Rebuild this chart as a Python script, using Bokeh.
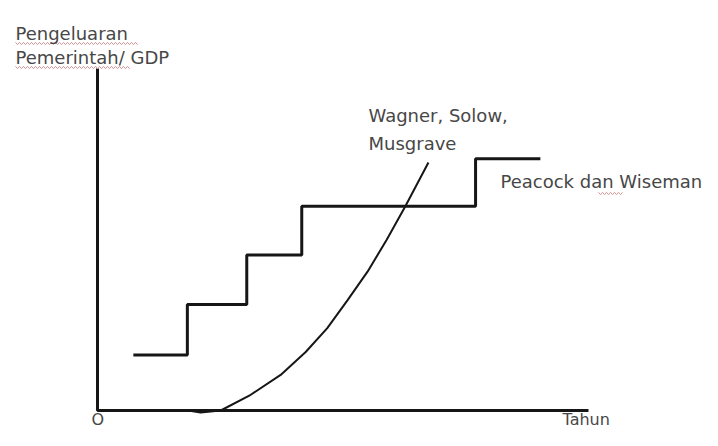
from bokeh.plotting import figure
from bokeh.embed import file_html
from bokeh.resources import INLINE
from bokeh.core.properties import value
from bokeh.models import Range1d
import numpy as np

# --- data (diagram units: both axes run 0..100) ---
axis_x = [0, 0, 100]
axis_y = [100, 0, 0]

step_x = [7.3, 18.3, 18.3, 30.4, 30.4, 41.6, 41.6, 77.0, 77.0, 90.2]
step_y = [16.2, 16.2, 31.0, 31.0, 45.5, 45.5, 59.7, 59.7, 73.6, 73.6]

curve_x = [18.5, 21.0, 25.1, 31.2, 37.3, 42.4, 46.8, 50.9, 55.0, 58.9, 62.7, 67.4]
curve_y = [0.0, -0.6, 0.0, 4.6, 10.4, 17.1, 24.1, 32.2, 40.6, 49.9, 59.7, 72.5]

top_labels = ["Pengeluaran", "Pemerintah/ GDP", "Wagner, Solow,", "Musgrave",
              "Peacock dan Wiseman"]
bottom_labels = ["O", "Tahun"]

# --- layout: pixel position of the origin and pixels per unit ---
W, H = 702, 430
OX, OY, KX, KY = 97.0, 410.0, 4.91, 3.42


def fx(px):
    return (px - OX) / KX


def fy(py):
    return (OY - py) / KY


p = figure(width=W, height=H, output_backend="svg", toolbar_location=None,
           x_range=Range1d(fx(0), fx(W)), y_range=Range1d(fy(H), fy(0)),
           min_border=0)
p.axis.visible = False
p.grid.visible = False
p.outline_line_color = None
p.background_fill_color = "white"
p.border_fill_color = "white"

ink = "#161616"
p.line(axis_x, axis_y, line_color=ink, line_width=3)
p.line(step_x, step_y, line_color=ink, line_width=3)
p.line(curve_x, curve_y, line_color=ink, line_width=2)

# spell-check squiggles under some words (decoration)
for x0, x1, yy in [(15, 137, 43), (15, 130, 67), (598, 623, 193)]:
    xs = np.arange(x0, x1 + 0.01, 2.0)
    ys = yy + np.where(np.arange(len(xs)) % 2 == 0, -1.2, 1.2)
    p.line([fx(v) for v in xs], [fy(v) for v in ys], line_color="#d89a9a",
           line_width=1)

txt_color = "#474747"
font = value("DejaVu Sans")
lx = [fx(15), fx(15), fx(368), fx(368), fx(500)]
ly = [fy(33), fy(57), fy(115), fy(143), fy(181)]
p.text(x=lx, y=ly, text=top_labels, text_font=font, text_font_size="18px",
       text_color=txt_color, text_baseline="middle", text_align="left")

p.text(x=[fx(91), fx(562)], y=[fy(419), fy(419)], text=bottom_labels,
       text_font=font, text_font_size="16px", text_color=txt_color,
       text_baseline="middle", text_align="left")

open("out.html", "w").write(file_html(p, INLINE))
